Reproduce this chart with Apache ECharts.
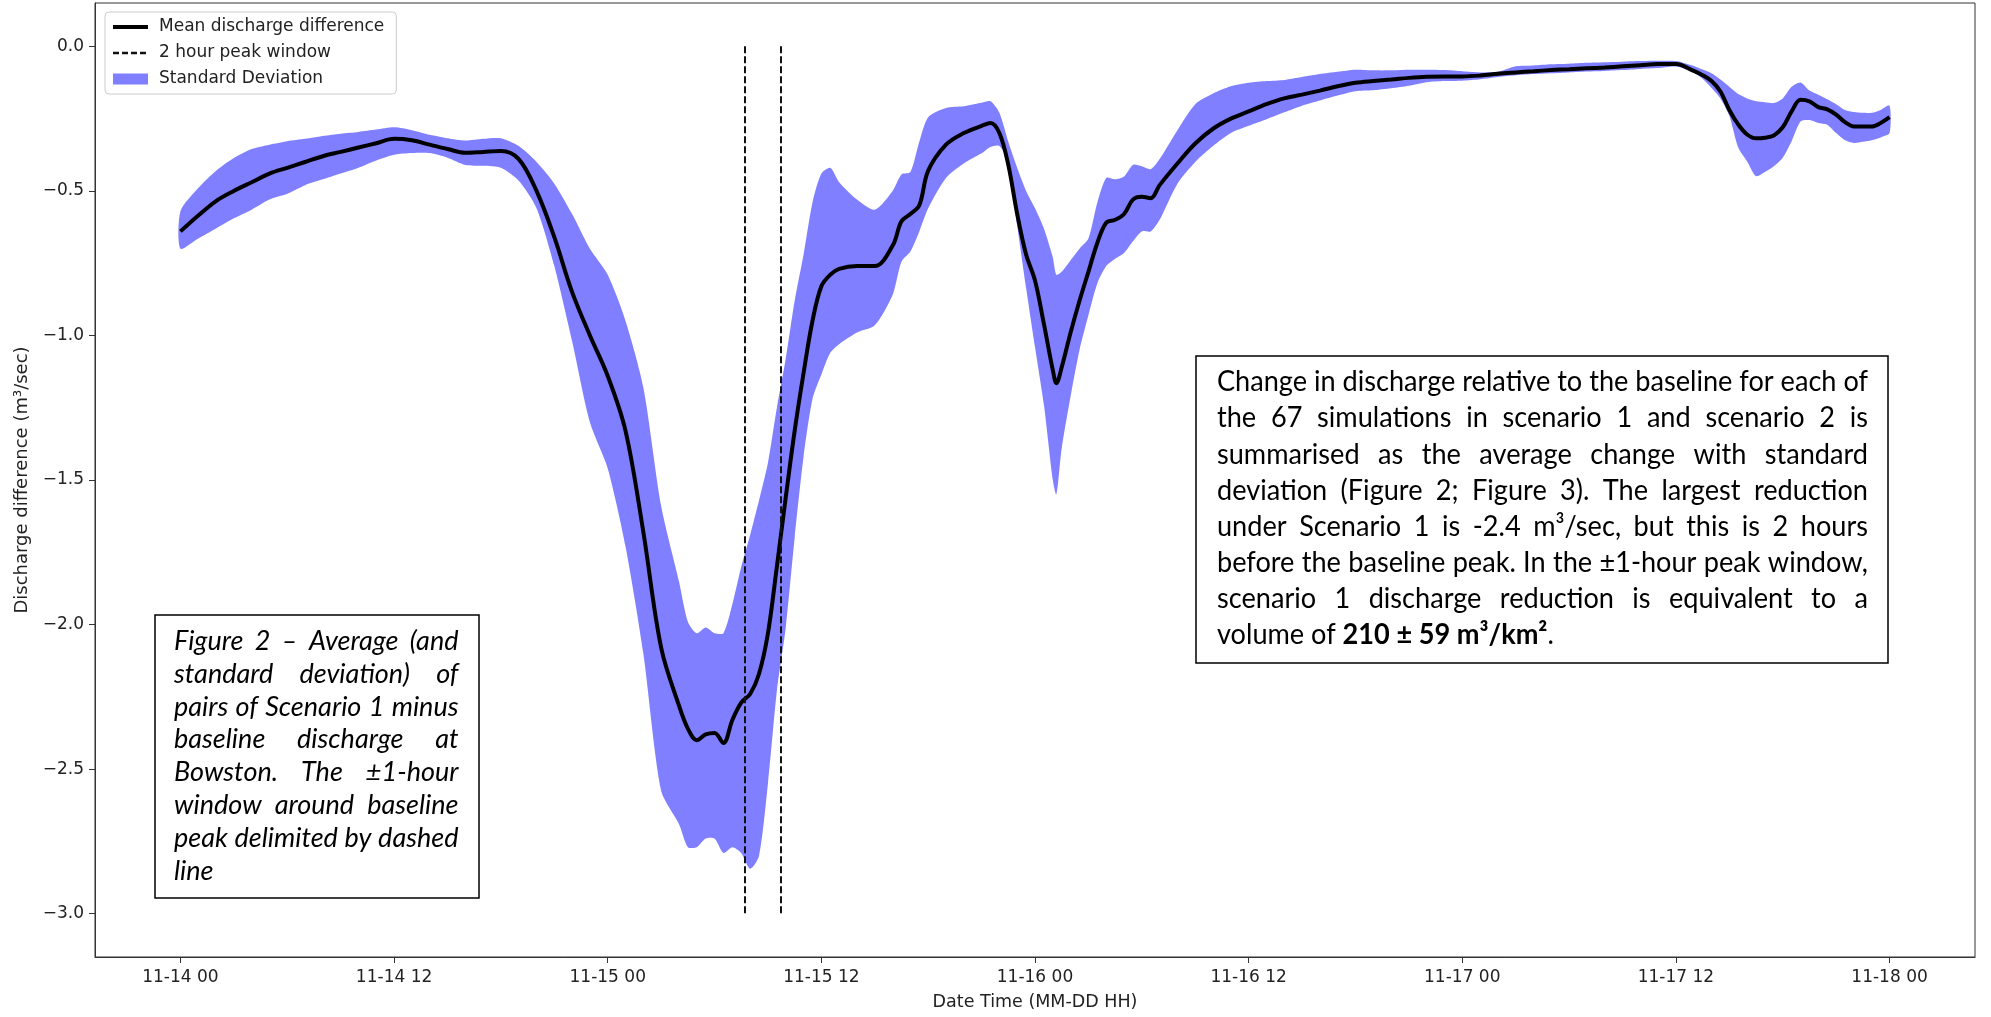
<!DOCTYPE html>
<html><head><meta charset="utf-8">
<script src="https://cdn.jsdelivr.net/npm/echarts@6/dist/echarts.min.js"></script>
<style>html,body{margin:0;padding:0;background:#fff}#c{width:1991px;height:1017px}</style>
</head><body><div id="c"></div>
<script>
// ---------------- DATA ----------------
// hours since 11-14 00
const hours = [
  0,1,2,3,4,5,6,7,8,9,10,11,12,13,14,15,16,17,18,19,20,21,22,23,24,25,26,27,
  28,28.5,29,29.5,30,30.5,31,31.5,32,32.5,33,33.5,34,34.5,35,35.5,36,36.5,37,38,
  39,40,40.5,41,41.5,42,43,44,45,45.5,46,46.5,47,47.5,48,48.5,49,49.2,49.5,50,
  50.5,51,51.5,52,52.5,53,53.5,54,54.5,55,
  56,57,58,59,60,61,62,63,64,65,66,67,68,69,70,71,72,73,74,75,76,77,78,79,80,81,82,83,84,
  85,85.5,86,86.5,87,87.5,88,88.5,89,89.5,90,90.5,91,91.5,92,92.5,93,93.5,94,94.5,95,95.5,96
];
const meanDiff = [
  -0.64,-0.585,-0.535,-0.50,-0.47,-0.44,-0.42,-0.40,-0.38,-0.365,-0.35,-0.335,-0.32,-0.325,-0.34,-0.355,-0.368,-0.365,-0.362,-0.39,-0.50,-0.66,-0.85,-1.00,-1.14,-1.33,-1.68,-2.08,
  -2.28,-2.36,-2.40,-2.38,-2.375,-2.41,-2.33,-2.27,-2.24,-2.17,-2.03,-1.80,-1.56,-1.33,-1.13,-0.95,-0.83,-0.79,-0.77,-0.76,
  -0.76,-0.69,-0.605,-0.58,-0.55,-0.43,-0.34,-0.30,-0.275,-0.265,-0.30,-0.41,-0.58,-0.72,-0.81,-0.96,-1.12,-1.165,-1.11,-0.99,
  -0.88,-0.78,-0.68,-0.61,-0.60,-0.58,-0.53,-0.52,-0.525,-0.48,
  -0.405,-0.336,-0.285,-0.25,-0.225,-0.20,-0.18,-0.167,-0.153,-0.138,-0.126,-0.12,-0.115,-0.109,-0.105,-0.104,-0.104,-0.101,-0.095,-0.09,-0.086,-0.082,-0.079,-0.076,-0.073,-0.069,-0.065,-0.061,-0.061,
  -0.085,-0.10,-0.12,-0.156,-0.22,-0.27,-0.305,-0.318,-0.316,-0.308,-0.28,-0.225,-0.185,-0.19,-0.21,-0.218,-0.236,-0.262,-0.277,-0.277,-0.277,-0.265,-0.245
];
const upperSD = [
  -0.57,-0.49,-0.43,-0.386,-0.355,-0.34,-0.328,-0.32,-0.31,-0.302,-0.296,-0.288,-0.28,-0.29,-0.306,-0.318,-0.326,-0.32,-0.318,-0.345,-0.40,-0.475,-0.58,-0.70,-0.79,-0.95,-1.18,-1.59,
  -1.85,-1.99,-2.03,-2.01,-2.03,-2.03,-1.93,-1.80,-1.69,-1.57,-1.44,-1.25,-1.08,-0.88,-0.72,-0.54,-0.44,-0.42,-0.47,-0.53,
  -0.565,-0.50,-0.443,-0.435,-0.33,-0.245,-0.213,-0.207,-0.195,-0.19,-0.23,-0.33,-0.42,-0.50,-0.56,-0.63,-0.73,-0.79,-0.78,-0.74,
  -0.70,-0.665,-0.54,-0.455,-0.46,-0.45,-0.41,-0.415,-0.425,-0.39,
  -0.29,-0.20,-0.163,-0.138,-0.126,-0.12,-0.116,-0.106,-0.096,-0.088,-0.081,-0.083,-0.083,-0.081,-0.081,-0.082,-0.086,-0.09,-0.088,-0.069,-0.066,-0.062,-0.06,-0.057,-0.055,-0.053,-0.051,-0.05,-0.051,
  -0.068,-0.08,-0.093,-0.115,-0.14,-0.165,-0.18,-0.19,-0.193,-0.196,-0.18,-0.14,-0.125,-0.153,-0.167,-0.183,-0.20,-0.22,-0.227,-0.23,-0.23,-0.22,-0.205
];
const lowerSD = [
  -0.70,-0.665,-0.63,-0.595,-0.565,-0.53,-0.51,-0.48,-0.46,-0.44,-0.42,-0.395,-0.375,-0.369,-0.369,-0.385,-0.41,-0.413,-0.42,-0.465,-0.56,-0.76,-1.02,-1.30,-1.46,-1.73,-2.10,-2.575,
  -2.69,-2.77,-2.77,-2.74,-2.74,-2.79,-2.77,-2.79,-2.845,-2.80,-2.55,-2.23,-2.01,-1.70,-1.42,-1.22,-1.135,-1.06,-1.03,-0.99,
  -0.965,-0.86,-0.745,-0.71,-0.64,-0.56,-0.455,-0.405,-0.37,-0.348,-0.345,-0.40,-0.62,-0.835,-1.04,-1.24,-1.50,-1.55,-1.39,-1.21,
  -1.05,-0.93,-0.82,-0.76,-0.735,-0.715,-0.674,-0.64,-0.64,-0.60,
  -0.475,-0.40,-0.345,-0.30,-0.275,-0.252,-0.228,-0.205,-0.187,-0.17,-0.155,-0.152,-0.145,-0.136,-0.124,-0.12,-0.119,-0.114,-0.106,-0.10,-0.096,-0.093,-0.09,-0.087,-0.085,-0.082,-0.078,-0.075,-0.07,
  -0.09,-0.112,-0.144,-0.18,-0.24,-0.35,-0.398,-0.449,-0.435,-0.415,-0.385,-0.328,-0.26,-0.255,-0.265,-0.271,-0.30,-0.325,-0.334,-0.33,-0.325,-0.315,-0.30
];
const peakWindowHours = [31.7, 33.7];
const peakWindowRange = [0, -3.0];
const xTicks = [0, 12, 24, 36, 48, 60, 72, 84, 96];
const xTickLabels = ['11-14 00','11-14 12','11-15 00','11-15 12','11-16 00','11-16 12','11-17 00','11-17 12','11-18 00'];
const yTicks = [0, -0.5, -1.0, -1.5, -2.0, -2.5, -3.0];
const yTickLabels = ['0.0','\u22120.5','\u22121.0','\u22121.5','\u22122.0','\u22122.5','\u22123.0'];
const seriesNames = ['Mean discharge difference', '2 hour peak window', 'Standard Deviation'];
const xAxisName = 'Date Time (MM-DD HH)';
const yAxisName = 'Discharge difference (m\u00b3/sec)';
const captionLines = [
  'Figure 2 \u2013 Average (and',
  'standard deviation) of',
  'pairs of Scenario 1 minus',
  'baseline discharge at',
  'Bowston. The \u00b11-hour',
  'window around baseline',
  'peak delimited by dashed',
  'line'
];
const noteLines = [
  'Change in discharge relative to the baseline for each of',
  'the 67 simulations in scenario 1 and scenario 2 is',
  'summarised as the average change with standard',
  'deviation (Figure 2; Figure 3). The largest reduction',
  'under Scenario 1 is -2.4 m\u00b3/sec, but this is 2 hours',
  'before the baseline peak. In the \u00b11-hour peak window,',
  'scenario 1 discharge reduction is equivalent to a',
  'volume of **210 \u00b1 59 m\u00b3/km\u00b2**.'
];
// ---------------- CHART ----------------
const BAND = 'rgba(0,0,255,0.5)';
const mctx = document.createElement('canvas').getContext('2d');
function measure(font, s) { mctx.font = font; return mctx.measureText(s).width; }
function boxTexts(lines, o) {
  const font = o.style + ' normal ' + o.size + 'px ' + o.family;
  const bold = o.style + ' bold ' + o.size + 'px ' + o.family;
  let maxW = 0;
  lines.forEach((l, i) => { if (i < lines.length - 1) maxW = Math.max(maxW, measure(font, l.replace(/\*\*/g, ''))); });
  const sx = Math.min(1, o.width / maxW);
  const T = o.width / sx;
  return lines.map((line, i) => {
    const isLast = i === lines.length - 1;
    const words = line.split(' ');
    let text; const rich = {};
    if (!isLast && words.length > 1) {
      const ww = words.reduce((a, w) => a + measure(font, w), 0);
      const gap = (T - ww) / (words.length - 1);
      rich.g = { font: font, width: gap, fill: '#000' };
      text = words.join('{g| }');
    } else {
      text = line.replace(/\*\*(.+?)\*\*/g, '{b|$1}');
      rich.b = { font: bold, fill: '#000' };
    }
    return {
      type: 'text', x: o.x, y: o.y + i * o.lineH, scaleX: sx, z: 100,
      style: { text: text, font: font, fill: '#000', verticalAlign: 'middle', align: 'left', rich: rich }
    };
  });
}
function idx(arr, v) { return arr.findIndex(t => Math.abs(t - v) < 1e-6); }

const chart = echarts.init(document.getElementById('c'), null, { renderer: 'canvas' });
const tickFont = { fontFamily: 'DejaVu Sans', fontSize: 17, color: '#222' };
const option = {
  animation: false,
  backgroundColor: '#fff',
  grid: { left: 95, right: 16, top: 3, bottom: 60, show: true, borderColor: '#333', borderWidth: 1, backgroundColor: 'transparent' },
  legend: {
    orient: 'vertical', left: 105, top: 12, itemWidth: 35, itemHeight: 11, itemGap: 6,
    padding: [5, 12, 5, 6], selectedMode: false,
    borderColor: '#cccccc', borderWidth: 1, borderRadius: 4, backgroundColor: 'rgba(255,255,255,0.8)',
    textStyle: { fontFamily: 'DejaVu Sans', fontSize: 17, color: '#222', lineHeight: 20, padding: [0, 0, 0, 6] },
    data: [
      { name: seriesNames[0], itemStyle: { opacity: 0 }, lineStyle: { width: 4, color: '#000' } },
      { name: seriesNames[1], itemStyle: { opacity: 0 }, lineStyle: { width: 2.5, color: '#111', type: [6, 3] } },
      { name: seriesNames[2], icon: 'rect', itemStyle: { color: BAND } }
    ]
  },
  xAxis: {
    type: 'value', min: -4.8, max: 100.8,
    axisLine: { show: true, onZero: false, lineStyle: { color: '#333', width: 1 } },
    axisTick: { show: true, customValues: xTicks, length: 6, lineStyle: { color: '#333' } },
    axisLabel: Object.assign({ show: true, customValues: xTicks, margin: 12,
      formatter: v => { const i = idx(xTicks, v); return i >= 0 ? xTickLabels[i] : ''; } }, tickFont),
    splitLine: { show: false },
    name: xAxisName, nameLocation: 'middle', nameGap: 36,
    nameTextStyle: { fontFamily: 'DejaVu Sans', fontSize: 17.5, color: '#222' }
  },
  yAxis: {
    type: 'value', min: -3.15, max: 0.15,
    axisLine: { show: true, onZero: false, lineStyle: { color: '#333', width: 1 } },
    axisTick: { show: true, customValues: yTicks, length: 6, lineStyle: { color: '#333' } },
    axisLabel: Object.assign({ show: true, customValues: yTicks, margin: 11,
      formatter: v => { const i = idx(yTicks, v); return i >= 0 ? yTickLabels[i] : ''; } }, tickFont),
    splitLine: { show: false },
    name: yAxisName, nameLocation: 'middle', nameGap: 62, nameRotate: 90,
    nameTextStyle: { fontFamily: 'DejaVu Sans', fontSize: 18, color: '#222' }
  },
  series: [
    {
      name: seriesNames[2], type: 'custom', silent: true, clip: true, z: 2,
      color: BAND, itemStyle: { color: BAND },
      data: hours.map((h, i) => [h, lowerSD[i], upperSD[i]]),
      encode: { x: 0, y: [1, 2] },
      renderItem: function (params, api) {
        if (params.dataIndex !== 0) return null;
        const top = hours.map((h, i) => api.coord([h, upperSD[i]]));
        const bot = hours.map((h, i) => api.coord([h, lowerSD[i]])).reverse();
        return {
          type: 'polygon',
          shape: { points: top.concat(bot), smooth: 0.25 },
          style: { fill: BAND, stroke: 'none' }
        };
      }
    },
    {
      name: seriesNames[1], type: 'line', data: [], symbol: 'none', color: '#111',
      lineStyle: { type: [7, 3], color: '#111', width: 2 }, z: 3,
      markLine: {
        silent: true, symbol: ['none', 'none'], label: { show: false },
        lineStyle: { type: [7, 3], color: '#111', width: 2 },
        data: peakWindowHours.map(h => [{ coord: [h, peakWindowRange[0]] }, { coord: [h, peakWindowRange[1]] }])
      }
    },
    {
      name: seriesNames[0], type: 'line', data: hours.map((h, i) => [h, meanDiff[i]]),
      symbol: 'none', smooth: 0.35, color: '#000',
      lineStyle: { color: '#000', width: 4 }, z: 4
    }
  ],
  graphic: [
    { type: 'rect', shape: { x: 155, y: 615, width: 324, height: 283 }, style: { fill: '#fff', stroke: '#000', lineWidth: 1.5 }, z: 99 },
    { type: 'rect', shape: { x: 1196, y: 356, width: 692, height: 307 }, style: { fill: '#fff', stroke: '#000', lineWidth: 1.5 }, z: 99 }
  ].concat(
    boxTexts(captionLines, { x: 174, y: 641, lineH: 32.9, width: 284.5, family: 'Lato', size: 27, style: 'italic' }),
    boxTexts(noteLines, { x: 1217, y: 382, lineH: 36.1, width: 651, family: 'Lato', size: 29, style: 'normal' })
  )
};
chart.setOption(option);
</script>
</body></html>
